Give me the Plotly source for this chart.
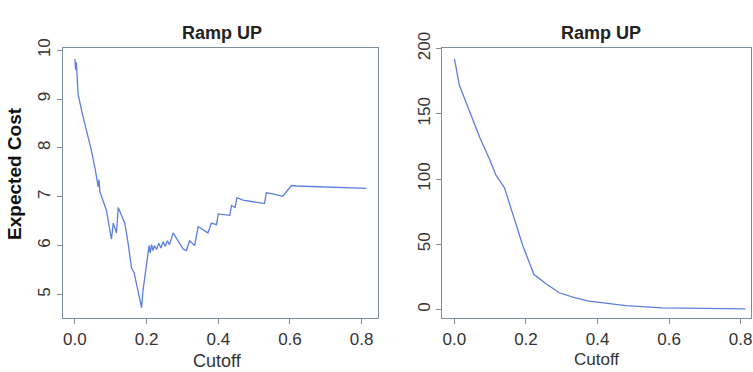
import plotly.graph_objects as go

# Left panel: Expected Cost vs Cutoff
cost_cutoff = [0.0, 0.002, 0.004, 0.006, 0.009, 0.02, 0.033, 0.045, 0.057, 0.062, 0.065, 0.067, 0.07,
               0.088, 0.102, 0.107,
               0.116, 0.121, 0.139, 0.148, 0.158, 0.165, 0.172, 0.186, 0.19, 0.2, 0.204, 0.207,
               0.21, 0.214, 0.218, 0.222, 0.228, 0.234, 0.24, 0.246, 0.252, 0.258, 0.264, 0.274,
               0.302, 0.311, 0.32, 0.334, 0.344, 0.371, 0.381, 0.395, 0.4, 0.432, 0.437, 0.447,
               0.452, 0.469, 0.529, 0.534, 0.553, 0.58, 0.604, 0.618, 0.813]
cost_value = [9.82, 9.6, 9.75, 9.5, 9.1, 8.72, 8.36, 7.98, 7.55, 7.34, 7.2, 7.35, 7.1,
              6.72, 6.13, 6.46,
              6.26, 6.78, 6.46, 6.07, 5.54, 5.45, 5.21, 4.73, 5.08, 5.6, 5.75, 6.0,
              5.85, 6.02, 5.9, 6.0, 5.92, 6.05, 5.95, 6.08, 5.98, 6.1, 6.02, 6.26,
              5.93, 5.9, 6.1, 6.0, 6.39, 6.26, 6.46, 6.43, 6.65, 6.62, 6.82, 6.78,
              6.98, 6.93, 6.86, 7.08, 7.06, 7.01, 7.23, 7.22, 7.17]

# Right panel
right_cutoff = [0.0, 0.007, 0.014, 0.042, 0.07, 0.098, 0.116, 0.14, 0.163, 0.191, 0.222,
                0.256, 0.293, 0.331, 0.372, 0.414, 0.479, 0.581, 0.813]
right_value = [192.2, 182.9, 171.9, 152.2, 132.5, 115.4, 103.1, 93.3, 73.6, 49.1, 27.0,
               19.7, 12.8, 9.4, 6.6, 5.3, 3.0, 1.3, 0.5]

panel_titles = ["Ramp UP", "Ramp UP"]
x_title = "Cutoff"
y_title_left = "Expected Cost"
x_ticks = [0.0, 0.2, 0.4, 0.6, 0.8]
x_ticklabels = ["0.0", "0.2", "0.4", "0.6", "0.8"]
left_yticks = [5, 6, 7, 8, 9, 10]
right_yticks = [0, 50, 100, 150, 200]

W, H = 753, 372
LINE = "#5b7fdf"
AX = "#7f8e9b"
TXT = "#333333"
FONT = "Liberation Sans, Arial, sans-serif"

fig = go.Figure()
fig.add_trace(go.Scatter(x=cost_cutoff, y=cost_value, mode="lines",
                         line=dict(color=LINE, width=1.3), xaxis="x", yaxis="y",
                         showlegend=False))
fig.add_trace(go.Scatter(x=right_cutoff, y=right_value, mode="lines",
                         line=dict(color=LINE, width=1.3), xaxis="x2", yaxis="y2",
                         showlegend=False))

def px(v):
    return v / W

def py(v):
    return (H - v) / H

ydom = [py(316), py(33)]
common_ax = dict(showline=True, linecolor=AX, linewidth=1, mirror=True, ticks="outside",
                 ticklen=5, tickcolor=AX, showgrid=False, zeroline=False,
                 ticklabeloverflow="allow",
                 tickfont=dict(family=FONT, size=17, color=TXT))

fig.update_layout(
    width=W, height=H, margin=dict(l=0, r=0, t=0, b=0),
    paper_bgcolor="white", plot_bgcolor="white",
    xaxis=dict(domain=[px(63), px(379)], range=[-0.0334, 0.847], anchor="y",
               tickvals=x_ticks, ticktext=x_ticklabels, **common_ax),
    yaxis=dict(domain=ydom, range=[4.51, 10.053], anchor="x",
               tickvals=left_yticks, tickangle=-90, **common_ax),
    xaxis2=dict(domain=[px(443), px(752)], range=[-0.0335, 0.829], anchor="y2",
                tickvals=x_ticks, ticktext=x_ticklabels, **common_ax),
    yaxis2=dict(domain=ydom, range=[-6.85, 200.8], anchor="x2",
                tickvals=right_yticks, tickangle=-90, **common_ax),
)

ann = []
ann.append(dict(x=px(222), y=py(18), text="<b>%s</b>" % panel_titles[0]))
ann.append(dict(x=px(602), y=py(18), text="<b>%s</b>" % panel_titles[1]))
for a in ann:
    a.update(xref="paper", yref="paper", showarrow=False, xanchor="center", yanchor="middle",
             font=dict(family=FONT, size=18, color="#222222"))
ann.append(dict(x=px(218), y=py(360), text=x_title, xref="paper", yref="paper", showarrow=False,
                xanchor="center", yanchor="middle", font=dict(family=FONT, size=18, color=TXT)))
ann.append(dict(x=px(597), y=py(359), text=x_title, xref="paper", yref="paper", showarrow=False,
                xanchor="center", yanchor="middle", font=dict(family=FONT, size=17, color=TXT)))
ann.append(dict(x=px(15), y=py(164), text="<b>%s</b>" % y_title_left, xref="paper", yref="paper",
                showarrow=False, textangle=-90, xanchor="center", yanchor="middle",
                font=dict(family=FONT, size=19, color="#111111")))
fig.update_layout(annotations=ann)

fig.write_html("out.html")
